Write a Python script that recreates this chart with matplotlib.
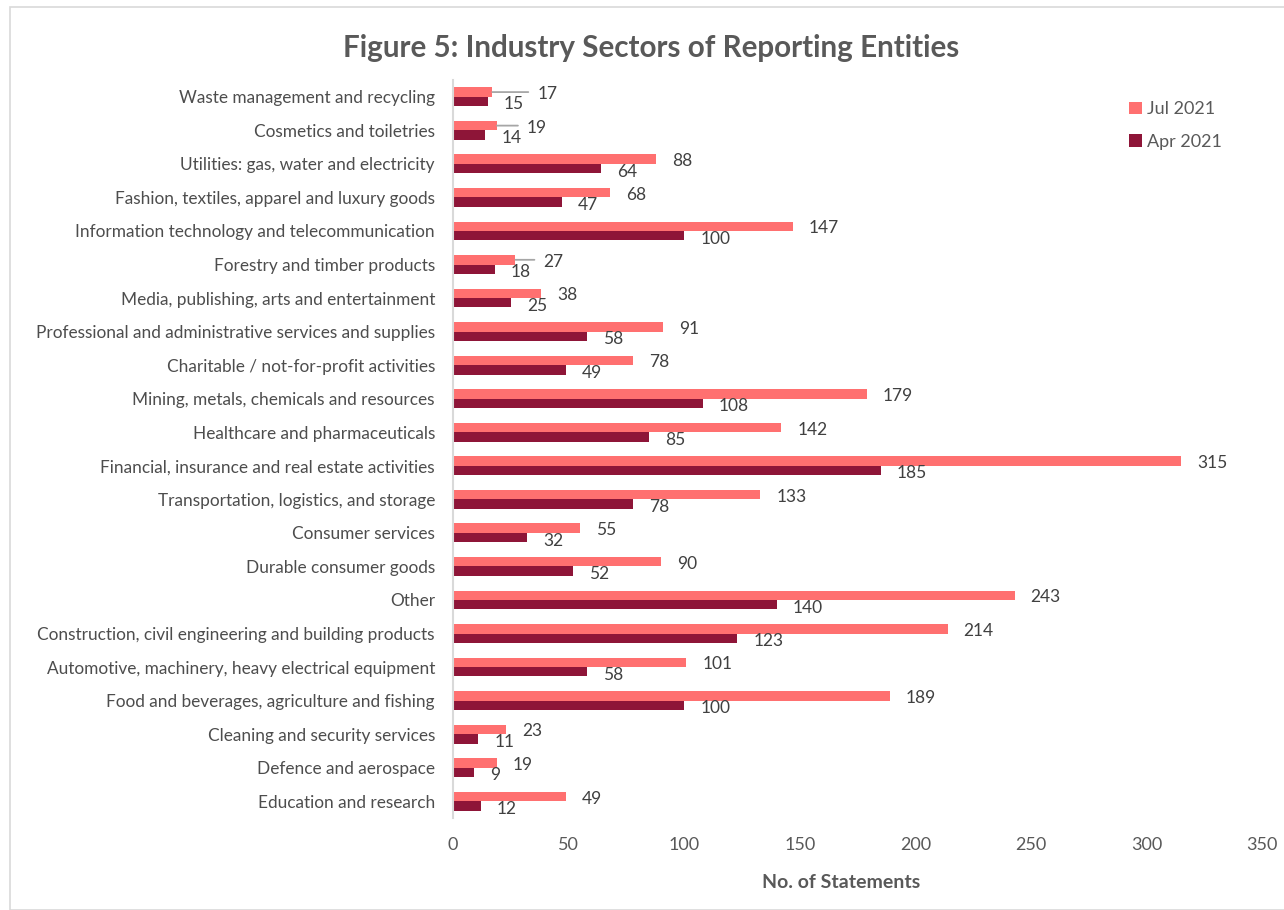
import matplotlib
matplotlib.use("Agg")
import matplotlib.pyplot as plt
from matplotlib.patches import Rectangle
import numpy as np

plt.rcParams['font.family'] = ['Lato', 'DejaVu Sans']

sectors = [
    "Waste management and recycling",
    "Cosmetics and toiletries",
    "Utilities: gas, water and electricity",
    "Fashion, textiles, apparel and luxury goods",
    "Information technology and telecommunication",
    "Forestry and timber products",
    "Media, publishing, arts and entertainment",
    "Professional and administrative services and supplies",
    "Charitable / not-for-profit activities",
    "Mining, metals, chemicals and resources",
    "Healthcare and pharmaceuticals",
    "Financial, insurance and real estate activities",
    "Transportation, logistics, and storage",
    "Consumer services",
    "Durable consumer goods",
    "Other",
    "Construction, civil engineering and building products",
    "Automotive, machinery, heavy electrical equipment",
    "Food and beverages, agriculture and fishing",
    "Cleaning and security services",
    "Defence and aerospace",
    "Education and research",
]
jul_2021 = [17, 19, 88, 68, 147, 27, 38, 91, 78, 179, 142, 315, 133, 55, 90, 243, 214, 101, 189, 23, 19, 49]
apr_2021 = [15, 14, 64, 47, 100, 18, 25, 58, 49, 108, 85, 185, 78, 32, 52, 140, 123, 58, 100, 11, 9, 12]
x_ticks = [0, 50, 100, 150, 200, 250, 300, 350]

JUL_COLOR = "#FF7070"
APR_COLOR = "#8E1538"
TEXT = "#404040"
LABEL_TEXT = "#4D4D4D"
TICK_TEXT = "#595959"

# extra horizontal push (pixels) for crowded Jul labels, drawn with a leader line
jul_label_push = {0: 29, 1: 14, 5: 12}

W, H, DPI = 1284, 910, 100
fig = plt.figure(figsize=(W / DPI, H / DPI), dpi=DPI)

# chart frame
fig.patches.append(Rectangle((10 / W, 0), 1.2, 1 - 7 / H, transform=fig.transFigure,
                             fill=False, edgecolor="#D9D9D9", linewidth=1.2))

ax_left, ax_right = 453 / W, 1262 / W
ax_top, ax_bottom = 1 - 80 / H, 1 - 818 / H
ax = fig.add_axes([ax_left, ax_bottom, ax_right - ax_left, ax_top - ax_bottom])

y = np.arange(len(sectors))
bh = 0.28
ax.barh(y - bh / 2, jul_2021, height=bh, color=JUL_COLOR, label="Jul 2021")
ax.barh(y + bh / 2, apr_2021, height=bh, color=APR_COLOR, label="Apr 2021")

ax.set_xlim(0, 350)
ax.set_ylim(len(sectors) - 0.5, -0.5)
ax.set_xticks(x_ticks)
ax.set_xticklabels([str(t) for t in x_ticks])
ax.set_yticks(y)
ax.set_yticklabels(sectors)
ax.tick_params(axis="y", length=0, pad=13, labelsize=12.4, labelcolor=LABEL_TEXT)
ax.tick_params(axis="x", length=0, pad=14, labelsize=13, labelcolor=TICK_TEXT)
for s in ("top", "right", "bottom"):
    ax.spines[s].set_visible(False)
ax.spines["left"].set_color("#D9D9D9")
ax.spines["left"].set_linewidth(1.5)

px = 72 / DPI  # points per pixel
for i, (j, a) in enumerate(zip(jul_2021, apr_2021)):
    push = jul_label_push.get(i, 0)
    ax.annotate(str(j), xy=(j, i - bh / 2), xytext=((16 + push) * px, -2 * px),
                textcoords="offset points", ha="left", va="center",
                fontsize=12.5, color=TEXT)
    if push:
        ax.annotate("", xy=(j, i - bh / 2), xytext=((push + 7) * px, 0),
                    textcoords="offset points",
                    arrowprops=dict(arrowstyle="-", color="#A6A6A6", lw=1.3,
                                    shrinkA=0, shrinkB=0))
    ax.annotate(str(a), xy=(a, i + bh / 2), xytext=(16 * px, -3 * px),
                textcoords="offset points", ha="left", va="center",
                fontsize=12.5, color=TEXT)

fig.text(651 / W, 1 - 48 / H, "Figure 5: Industry Sectors of Reporting Entities",
         ha="center", va="center", fontsize=21.3, fontweight="bold", color="#595959")
fig.text(841 / W, 1 - 882 / H, "No. of Statements", ha="center", va="center",
         fontsize=14, fontweight="bold", color="#595959")

leg = ax.legend(loc="upper left", bbox_to_anchor=(1113 / W, 1 - 85 / H),
                bbox_transform=fig.transFigure, frameon=False, fontsize=13,
                handlelength=0.7, handleheight=0.7, handletextpad=0.3,
                labelspacing=0.9, labelcolor="#595959")

fig.savefig("out.png", dpi=DPI)
